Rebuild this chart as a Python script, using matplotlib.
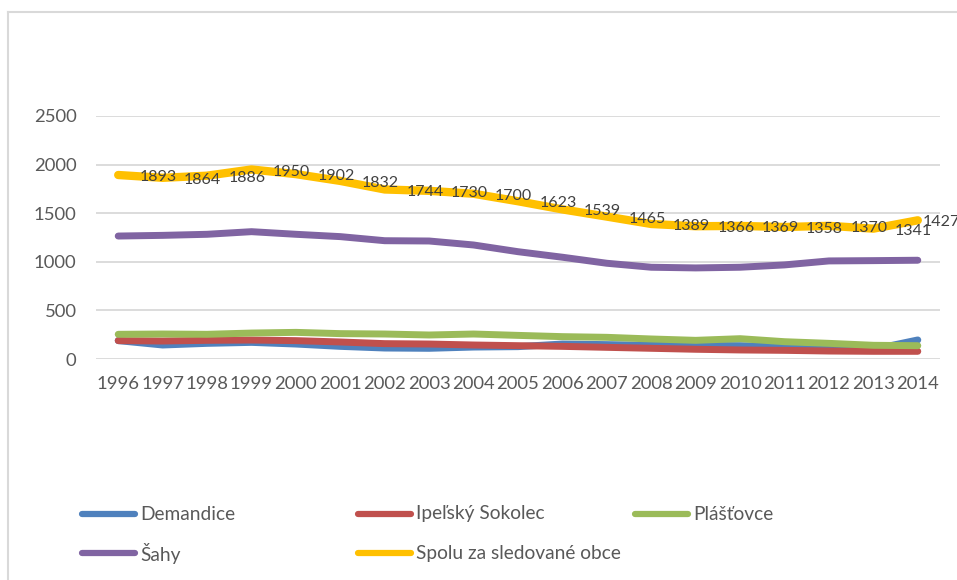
import matplotlib
matplotlib.use("Agg")
import matplotlib.pyplot as plt
from matplotlib.lines import Line2D

plt.rcParams["font.family"] = ["Lato", "DejaVu Sans"]

years = [str(y) for y in range(1996, 2015)]

demandice = [189, 144, 161, 171, 154, 130, 113, 110, 123, 127,
             154, 148, 141, 141, 137, 127, 117, 100, 196]
ipelsky_sokolec = [189, 185, 192, 195, 189, 175, 158, 154, 144, 137,
                   130, 120, 110, 100, 93, 89, 82, 79, 79]
plastovce = [254, 257, 254, 267, 274, 261, 257, 247, 257, 243,
             230, 223, 206, 192, 209, 178, 161, 141, 137]
sahy = [1265, 1272, 1283, 1310, 1283, 1259, 1217, 1214, 1173, 1104,
        1047, 985, 944, 937, 944, 968, 1009, 1012, 1016]
spolu = [1893, 1864, 1886, 1950, 1902, 1832, 1744, 1730, 1700, 1623,
         1539, 1465, 1389, 1366, 1369, 1358, 1370, 1341, 1427]

names = ["Demandice", "Ipeľský Sokolec", "Plášťovce", "Šahy",
         "Spolu za sledované obce"]
series = [demandice, ipelsky_sokolec, plastovce, sahy, spolu]
colors = ["#4F81BD", "#C0504D", "#9BBB59", "#8064A2", "#FFC000"]
widths = [5, 5, 5, 5, 6]

fig = plt.figure(figsize=(9.57, 5.80), dpi=100)
ax = fig.add_axes([96 / 957, 221 / 580, 844 / 957, 243 / 580])

x = range(len(years))
for vals, c, w in zip(series, colors, widths):
    ax.plot(x, vals, color=c, lw=w, solid_capstyle="round",
            solid_joinstyle="round")

# data labels on the total (last one gets pushed left, like excel does)
for i, v in enumerate(spolu):
    dx = 15.5 if i < len(spolu) - 1 else 3.5
    ax.annotate(str(v), (i, v), xytext=(dx, -1.5), textcoords="offset points",
                ha="left", va="center", fontsize=11.5, color="#404040",
                annotation_clip=False)

ax.set_xlim(-0.5, len(years) - 0.5)
ax.set_ylim(0, 2500)
ax.set_yticks(range(0, 2501, 500))
ax.set_xticks(list(x))
ax.set_xticklabels(years)
ax.grid(axis="y", color="#D9D9D9", lw=1.3)
ax.set_axisbelow(True)
for s in ax.spines.values():
    s.set_visible(False)
ax.tick_params(length=0, labelsize=13.3, labelcolor="#595959")
ax.tick_params(axis="y", pad=14)
ax.tick_params(axis="x", pad=12)

# legend, drawn by hand
col_x = [82, 358, 635]
row_y = [514, 553]
for k, (name, c) in enumerate(zip(names, colors)):
    cx = col_x[k % 3]
    ry = row_y[k // 3]
    yy = 1 - ry / 580
    fig.add_artist(Line2D([cx / 957, (cx + 53) / 957], [yy, yy], color=c,
                          lw=4.5, solid_capstyle="round"))
    fig.text((cx + 58) / 957, yy, name, fontsize=13.8, color="#595959",
             ha="left", va="center")

# chart area border
bc = "#D9D9D9"
fig.add_artist(Line2D([8 / 957, 8 / 957], [0, 1 - 12 / 580], color=bc, lw=1.5))
fig.add_artist(Line2D([8 / 957, 1], [1 - 12 / 580, 1 - 12 / 580], color=bc, lw=1.5))

fig.savefig("out.png", dpi=100)
